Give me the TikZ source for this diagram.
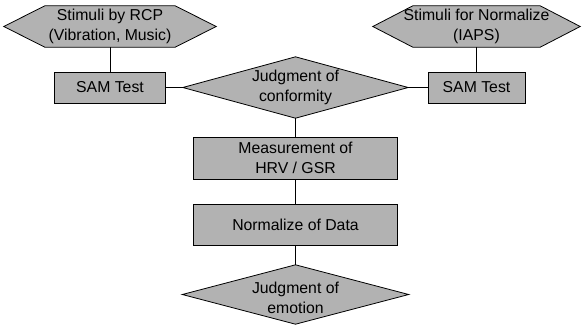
\documentclass[tikz,border=0pt]{standalone}
\usepackage{fontspec}
\setmainfont{Liberation Sans}
\usetikzlibrary{calc,backgrounds}
\definecolor{shapefill}{gray}{0.70}
\begin{document}
\begin{tikzpicture}[x=1pt,y=-1pt,
  label text/.style={font=\fontsize{15.8}{20.5}\selectfont, align=center, inner sep=0pt},
  frame/.style={label text, shape=rectangle, minimum width=#1},
  procbox/.style={label text, draw, fill=shapefill, line width=0.8pt, minimum width=#1},
  outline/.style={draw, fill=shapefill, line width=0.8pt},
  link/.style={draw, line width=0.7pt}]
\useasboundingbox (0,0) rectangle (582,325);

% stimulus sources (hexagons are drawn behind their frames)
\node[frame=212pt, minimum height=41pt] (stimA) at (110,26.5)
  {Stimuli by RCP\\(Vibration, Music)};
\node[frame=207pt, minimum height=41pt] (stimB) at (476.5,26.5)
  {Stimuli for Normalize\\(IAPS)};

% self-assessment tests
\node[procbox=111pt, minimum height=31pt] (samA) at (110,87.5) {SAM Test};
\node[procbox=97pt, minimum height=31pt] (samB) at (476.5,87.5) {SAM Test};

% decision on conformity
\node[frame=225pt, minimum height=61pt] (conf) at (295.5,87.5)
  {Judgment of\\conformity};

% measurement and normalisation
\node[procbox=204pt, minimum height=42pt] (meas) at (295.5,158) {Measurement of\\HRV / GSR};
\node[procbox=204pt, minimum height=41pt] (norm) at (295.5,224.5) {Normalize of Data};

% final decision
\node[frame=226pt, minimum height=59pt] (emo) at (295.5,294.5) {};
\node[label text] (emotxt) at (295.5,298) {Judgment of\\emotion};

\begin{scope}[on background layer]
  \path[outline] (stimA.west) -- ($(stimA.north west)+(41,0)$) -- ($(stimA.north east)+(-41,0)$)
    -- (stimA.east) -- ($(stimA.south east)+(-41,0)$) -- ($(stimA.south west)+(41,0)$) -- cycle;
  \path[outline] (stimB.west) -- ($(stimB.north west)+(40,0)$) -- ($(stimB.north east)+(-40,0)$)
    -- (stimB.east) -- ($(stimB.south east)+(-40,0)$) -- ($(stimB.south west)+(40,0)$) -- cycle;
  \path[outline] (conf.west) -- (conf.north) -- (conf.east) -- (conf.south) -- cycle;
  \path[outline] (emo.west) -- (emo.north) -- (emo.east) -- (emo.south) -- cycle;
\end{scope}

% connectors
\path[link] (stimA.south) -- (samA.north);
\path[link] (stimB.south) -- (samB.north);
\path[link] (samA.east) -- (conf.west);
\path[link] (conf.east) -- (samB.west);
\path[link] (conf.south) -- (meas.north);
\path[link] (meas.south) -- (norm.north);
\path[link] (norm.south) -- (emo.north);
\end{tikzpicture}
\end{document}
